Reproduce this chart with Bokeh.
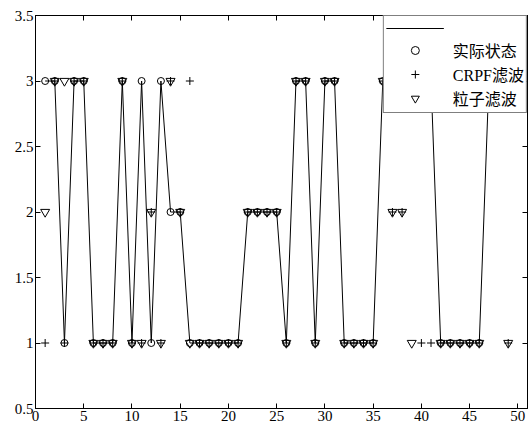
from bokeh.plotting import figure
from bokeh.models import (LinearAxis, FixedTicker, Legend, LegendItem, Range1d,
                          ColumnDataSource)
from bokeh.embed import file_html
from bokeh.resources import INLINE

# ---- data ----
steps = list(range(1, 51))
actual_state = [3, 3, 1, 3, 3, 1, 1, 1, 3, 1,
                3, 1, 3, 2, 2, 1, 1, 1, 1, 1,
                1, 2, 2, 2, 2, 1, 3, 3, 1, 3,
                3, 1, 1, 1, 1, 3, 3, 3, 3, 3,
                3, 1, 1, 1, 1, 1, 3, 3, 3, 3]
crpf_filter = [1, 3, 1, 3, 3, 1, 1, 1, 3, 1,
               1, 2, 1, 3, 2, 3, 1, 1, 1, 1,
               1, 2, 2, 2, 2, 1, 3, 3, 1, 3,
               3, 1, 1, 1, 1, 3, 2, 2, 3, 1,
               1, 1, 1, 1, 1, 1, 3, 3, 1, 3]
particle_filter = [2, 3, 3, 3, 3, 1, 1, 1, 3, 1,
                   1, 2, 1, 3, 2, 1, 1, 1, 1, 1,
                   1, 2, 2, 2, 2, 1, 3, 3, 1, 3,
                   3, 1, 1, 1, 1, 3, 2, 2, 1, 3,
                   3, 1, 1, 1, 1, 1, 3, 3, 1, 3]
labels = ["", "实际状态", "CRPF滤波", "粒子滤波"]
x_ticks = [0, 5, 10, 15, 20, 25, 30, 35, 40, 45, 50]
y_ticks = [0.5, 1, 1.5, 2, 2.5, 3, 3.5]
y_tick_labels = ["0.5", "1", "1.5", "2", "2.5", "3", "3.5"]

src = ColumnDataSource(dict(k=steps, a=actual_state, c=crpf_filter, pf=particle_filter))

SERIF = "Liberation Serif, Noto Sans CJK SC"

p = figure(width=529, height=428, x_range=Range1d(0, 51), y_range=Range1d(0.5, 3.5),
           output_backend="svg", toolbar_location=None,
           min_border_left=35, min_border_right=2, min_border_top=15, min_border_bottom=20)
p.xgrid.visible = False
p.ygrid.visible = False
p.outline_line_color = "black"
p.outline_line_width = 1
p.background_fill_color = "white"
p.border_fill_color = "white"

def style_axis(ax, ticks, show_labels=True):
    ax.ticker = FixedTicker(ticks=ticks)
    ax.major_tick_in = 5
    ax.major_tick_out = 0
    ax.minor_tick_in = 0
    ax.minor_tick_out = 0
    ax.axis_line_color = "black"
    ax.major_tick_line_color = "black"
    if show_labels:
        ax.major_label_text_font = SERIF
        ax.major_label_text_font_size = "15px"
        ax.major_label_text_color = "black"
        ax.major_label_standoff = 2
    else:
        ax.major_label_text_font_size = "0px"
        ax.major_label_text_color = None
        ax.major_label_text_alpha = 0
        ax.major_label_standoff = 0

style_axis(p.xaxis[0], x_ticks)
style_axis(p.yaxis[0], y_ticks)
p.yaxis[0].major_label_overrides = {t: s for t, s in zip(y_ticks, y_tick_labels)}

top_ax = LinearAxis()
style_axis(top_ax, x_ticks, show_labels=False)
p.add_layout(top_ax, "above")
right_ax = LinearAxis()
style_axis(right_ax, y_ticks, show_labels=False)
p.add_layout(right_ax, "right")

r_line = p.line("k", "a", source=src, line_color="black", line_width=1)
r_circ = p.scatter("k", "a", source=src, marker="circle", size=7, fill_color=None,
                   line_color="black", line_width=1)
r_plus = p.scatter("k", "c", source=src, marker="cross", size=8,
                   line_color="black", line_width=1)
r_tri = p.scatter("k", "pf", source=src, marker="inverted_triangle", size=9, fill_color=None,
                  line_color="black", line_width=1)

legend = Legend(items=[LegendItem(label=labels[0], renderers=[r_line]),
                       LegendItem(label=labels[1], renderers=[r_circ]),
                       LegendItem(label=labels[2], renderers=[r_plus]),
                       LegendItem(label=labels[3], renderers=[r_tri])],
                location="top_right", margin=0, padding=2, spacing=0,
                glyph_width=58, glyph_height=20, label_height=20, label_standoff=9,
                label_text_font=SERIF, label_text_font_size="16px",
                label_text_color="black",
                border_line_color="black", border_line_width=1,
                background_fill_color="white", background_fill_alpha=1)
p.add_layout(legend)

open("out.html", "w").write(file_html(p, INLINE))
